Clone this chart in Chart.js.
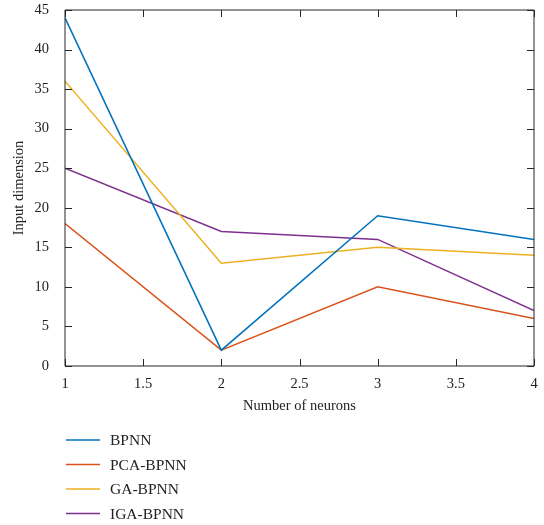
<!DOCTYPE html>
<html>
<head>
<meta charset="utf-8">
<script src="https://cdn.jsdelivr.net/npm/chart.js@4.4.1/dist/chart.umd.min.js"></script>
<style>
  html, body { margin: 0; padding: 0; background: #fff; }
  #wrap { width: 544px; height: 525px; }
</style>
</head>
<body>
<div id="wrap"><canvas id="chart" width="544" height="525"></canvas></div>
<script>
// dados
const neurons = [1, 2, 3, 4];
const bpnn = [44, 2, 19, 16];
const pcaBpnn = [18, 2, 10, 6];
const gaBpnn = [36, 13, 15, 14];
const igaBpnn = [25, 17, 16, 7];
const seriesNames = ['BPNN', 'PCA-BPNN', 'GA-BPNN', 'IGA-BPNN'];
const seriesColors = ['#0072BD', '#D95319', '#EDB120', '#7E2F8E'];
const xTicks = [1, 1.5, 2, 2.5, 3, 3.5, 4];
const yTicks = [0, 5, 10, 15, 20, 25, 30, 35, 40, 45];

const FONT = '"Liberation Serif", "DejaVu Serif", serif';
const INK = '#262626';

// marcas de escala para dentro, nos quatro lados
const innerTicks = {
  id: 'innerTicks',
  afterDraw(chart) {
    const { ctx, chartArea: a, scales } = chart;
    const len = 7;
    ctx.save();
    ctx.strokeStyle = INK;
    ctx.lineWidth = 1;
    ctx.beginPath();
    ctx.rect(a.left, a.top, a.right - a.left, a.bottom - a.top);
    yTicks.forEach(v => {
      const y = Math.round(scales.y.getPixelForValue(v)) + 0.5;
      ctx.moveTo(a.left, y); ctx.lineTo(a.left + len, y);
      ctx.moveTo(a.right, y); ctx.lineTo(a.right - len, y);
    });
    xTicks.forEach(v => {
      const x = Math.round(scales.x.getPixelForValue(v)) + 0.5;
      ctx.moveTo(x, a.bottom); ctx.lineTo(x, a.bottom - len);
      ctx.moveTo(x, a.top); ctx.lineTo(x, a.top + len);
    });
    ctx.stroke();
    ctx.restore();
  }
};

// legenda vertical embaixo, à esquerda
const sideLegend = {
  id: 'sideLegend',
  afterDraw(chart) {
    const { ctx } = chart;
    ctx.save();
    ctx.font = '15.5px ' + FONT;
    ctx.textBaseline = 'middle';
    chart.data.datasets.forEach((ds, i) => {
      const y = 440 + i * 24.5;
      ctx.strokeStyle = ds.borderColor;
      ctx.lineWidth = 1.5;
      ctx.beginPath();
      ctx.moveTo(66, y); ctx.lineTo(100, y);
      ctx.stroke();
      ctx.fillStyle = '#222';
      ctx.fillText(ds.label, 110, y + 1);
    });
    ctx.restore();
  }
};

const allSeries = [bpnn, pcaBpnn, gaBpnn, igaBpnn];

new Chart(document.getElementById('chart'), {
  type: 'line',
  data: {
    datasets: allSeries.map((vals, i) => ({
      label: seriesNames[i],
      data: neurons.map((n, j) => ({ x: n, y: vals[j] })),
      borderColor: seriesColors[i],
      backgroundColor: seriesColors[i],
      borderWidth: 1.5,
      pointRadius: 0,
      tension: 0,
      fill: false
    }))
  },
  options: {
    responsive: false,
    animation: false,
    layout: { padding: { top: 10, right: 10, left: 0, bottom: 109 } },
    plugins: {
      legend: { display: false },
      tooltip: { enabled: false }
    },
    scales: {
      x: {
        type: 'linear',
        min: 1,
        max: 4,
        afterBuildTicks: s => { s.ticks = xTicks.map(v => ({ value: v })); },
        afterFit: s => { s.height = 50; },
        grid: { display: false },
        border: { display: false },
        ticks: {
          color: '#222',
          padding: 1,
          maxRotation: 0,
          font: { family: FONT, size: 14.5 },
          callback: v => String(v)
        },
        title: {
          display: true,
          text: 'Number of neurons',
          color: '#222',
          padding: { top: 4, bottom: 1 },
          font: { family: FONT, size: 14.5 }
        }
      },
      y: {
        min: 0,
        max: 45,
        afterBuildTicks: s => { s.ticks = yTicks.map(v => ({ value: v })); },
        afterFit: s => { s.width = 65; s.paddingTop = 0; s.paddingBottom = 0; },
        grid: { display: false },
        border: { display: false },
        ticks: {
          color: '#222',
          padding: 8,
          font: { family: FONT, size: 14.5 },
          callback: v => String(v)
        },
        title: {
          display: true,
          text: 'Input dimension',
          color: '#222',
          padding: { top: 10, bottom: 0 },
          font: { family: FONT, size: 14.5 }
        }
      }
    }
  },
  plugins: [innerTicks, sideLegend]
});
</script>
</body>
</html>
